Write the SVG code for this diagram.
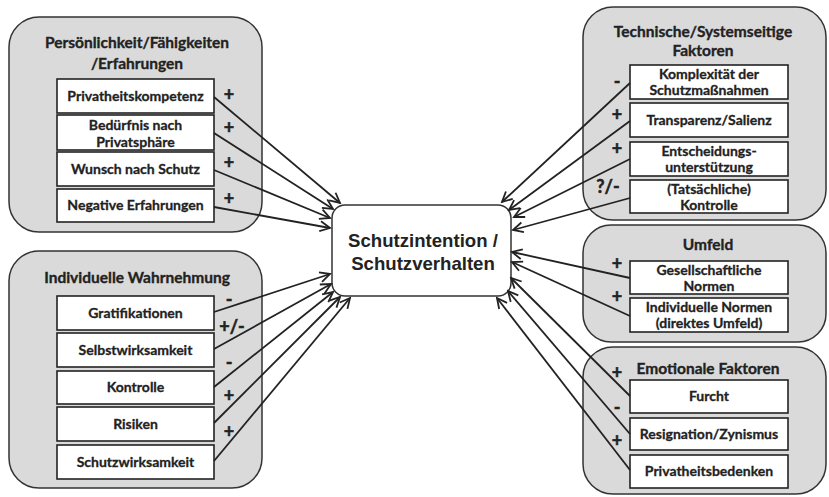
<svg xmlns="http://www.w3.org/2000/svg" width="829" height="497" viewBox="0 0 829 497">
  <defs>
    <marker id="arrow" markerUnits="userSpaceOnUse" markerWidth="14" markerHeight="14" viewBox="-12 -7 14 14" refX="0" refY="0" orient="auto">
      <path d="M-10,-5 L0,0 L-10,5" fill="none" stroke="#222" stroke-width="1.8" stroke-linejoin="miter"/>
    </marker>
  </defs>
  <style>
    .group { fill: #dadada; stroke: #333; stroke-width: 1.5; }
    .item { fill: #fff; stroke: #222; stroke-width: 1.6; }
    .title { font-family: Lato, "Open Sans", "Liberation Sans", sans-serif; font-weight: bold; font-size: 15.5px; fill: #222; stroke: #222; stroke-width: 0.35; text-anchor: middle; }
    .label { font-family: Lato, "Open Sans", "Liberation Sans", sans-serif; font-weight: bold; font-size: 14px; fill: #222; stroke: #222; stroke-width: 0.3; text-anchor: middle; }
    .sign { font-family: Lato, "Open Sans", "Liberation Sans", sans-serif; font-weight: bold; font-size: 18px; fill: #222; stroke: #222; stroke-width: 0.5; text-anchor: middle; }
    .core { fill: #fff; stroke: #333; stroke-width: 1.5; }
    .core-text { font-family: "Liberation Sans", Arial, sans-serif; font-weight: bold; font-size: 18.6px; fill: #222; text-anchor: middle; }
    .conn line { stroke: #222; stroke-width: 1.8; marker-end: url(#arrow); }
  </style>

  <!-- Left upper group -->
  <g id="persoenlichkeit">
    <rect class="group" x="9" y="17" width="253" height="215" rx="30"/>
    <text class="title" x="137" y="48">Persönlichkeit/Fähigkeiten</text>
    <text class="title" x="137" y="69">/Erfahrungen</text>
    <rect class="item" x="57" y="79" width="157" height="34"/>
    <text class="label" x="135.5" y="101">Privatheitskompetenz</text>
    <rect class="item" x="57" y="115" width="157" height="35"/>
    <text class="label" x="135.5" y="130">Bedürfnis nach</text>
    <text class="label" x="135.5" y="147">Privatsphäre</text>
    <rect class="item" x="57" y="152" width="157" height="34"/>
    <text class="label" x="135.5" y="174">Wunsch nach Schutz</text>
    <rect class="item" x="57" y="189" width="157" height="33"/>
    <text class="label" x="135.5" y="210">Negative Erfahrungen</text>
    <text class="sign" x="229" y="101">+</text>
    <text class="sign" x="229" y="134">+</text>
    <text class="sign" x="229" y="169">+</text>
    <text class="sign" x="229" y="205">+</text>
  </g>

  <!-- Left lower group -->
  <g id="wahrnehmung">
    <rect class="group" x="9" y="251" width="253" height="237" rx="30"/>
    <text class="title" x="137" y="283">Individuelle Wahrnehmung</text>
    <rect class="item" x="57" y="296" width="157" height="34"/>
    <text class="label" x="135.5" y="318">Gratifikationen</text>
    <rect class="item" x="57" y="333" width="157" height="34"/>
    <text class="label" x="135.5" y="355">Selbstwirksamkeit</text>
    <rect class="item" x="57" y="371" width="157" height="33"/>
    <text class="label" x="135.5" y="392">Kontrolle</text>
    <rect class="item" x="57" y="407" width="157" height="34"/>
    <text class="label" x="135.5" y="429">Risiken</text>
    <rect class="item" x="57" y="445" width="157" height="34"/>
    <text class="label" x="135.5" y="467">Schutzwirksamkeit</text>
    <text class="sign" x="229" y="306">-</text>
    <text class="sign" x="232" y="333">+/-</text>
    <text class="sign" x="229" y="369">-</text>
    <text class="sign" x="229" y="402">+</text>
    <text class="sign" x="229" y="438">+</text>
  </g>

  <!-- Right upper group -->
  <g id="technisch">
    <rect class="group" x="583" y="7" width="243" height="213" rx="30"/>
    <text class="title" x="703" y="37">Technische/Systemseitige</text>
    <text class="title" x="703" y="56">Faktoren</text>
    <rect class="item" x="630" y="65" width="158" height="34"/>
    <text class="label" x="709" y="79">Komplexität der</text>
    <text class="label" x="709" y="95">Schutzmaßnahmen</text>
    <rect class="item" x="630" y="103" width="158" height="34"/>
    <text class="label" x="709" y="125">Transparenz/Salienz</text>
    <rect class="item" x="630" y="142" width="158" height="34"/>
    <text class="label" x="709" y="156">Entscheidungs-</text>
    <text class="label" x="709" y="172">unterstützung</text>
    <rect class="item" x="630" y="180" width="158" height="33"/>
    <text class="label" x="709" y="194">(Tatsächliche)</text>
    <text class="label" x="709" y="210">Kontrolle</text>
    <text class="sign" x="617" y="88">-</text>
    <text class="sign" x="617" y="121">+</text>
    <text class="sign" x="617" y="155">+</text>
    <text class="sign" x="608" y="193">?/-</text>
  </g>

  <!-- Right middle group -->
  <g id="umfeld">
    <rect class="group" x="583" y="225" width="243" height="117" rx="28"/>
    <text class="title" x="708" y="250">Umfeld</text>
    <rect class="item" x="630" y="261" width="158" height="33"/>
    <text class="label" x="709" y="275">Gesellschaftliche</text>
    <text class="label" x="709" y="291">Normen</text>
    <rect class="item" x="630" y="298" width="158" height="34"/>
    <text class="label" x="709" y="312">Individuelle Normen</text>
    <text class="label" x="709" y="328">(direktes Umfeld)</text>
    <text class="sign" x="617" y="270">+</text>
    <text class="sign" x="617" y="303">+</text>
  </g>

  <!-- Right lower group -->
  <g id="emotional">
    <rect class="group" x="583" y="347" width="243" height="147" rx="30"/>
    <text class="title" x="708" y="374">Emotionale Faktoren</text>
    <rect class="item" x="630" y="380" width="158" height="33"/>
    <text class="label" x="709" y="401">Furcht</text>
    <rect class="item" x="630" y="418" width="158" height="32"/>
    <text class="label" x="709" y="439">Resignation/Zynismus</text>
    <rect class="item" x="630" y="455" width="158" height="33"/>
    <text class="label" x="709" y="476">Privatheitsbedenken</text>
    <text class="sign" x="617" y="379">+</text>
    <text class="sign" x="617" y="414">-</text>
    <text class="sign" x="617" y="447">+</text>
  </g>

  <!-- Central node -->
  <g id="schutz">
    <rect class="core" x="332" y="205" width="179" height="91" rx="13"/>
    <text class="core-text" x="423" y="247">Schutzintention /</text>
    <text class="core-text" x="423" y="270">Schutzverhalten</text>
  </g>

  <!-- Connectors -->
  <g class="conn" id="connectors">
    <line x1="214" y1="97" x2="340" y2="203"/>
    <line x1="214" y1="133" x2="333" y2="209"/>
    <line x1="214" y1="170" x2="330" y2="218"/>
    <line x1="214" y1="207" x2="330" y2="228"/>

    <line x1="214" y1="312" x2="330" y2="274"/>
    <line x1="214" y1="349" x2="331" y2="284"/>
    <line x1="214" y1="387" x2="333" y2="292"/>
    <line x1="214" y1="423" x2="340" y2="297"/>
    <line x1="214" y1="461" x2="350" y2="298"/>

    <line x1="630" y1="83" x2="502" y2="202"/>
    <line x1="630" y1="121" x2="509" y2="210"/>
    <line x1="630" y1="159" x2="514" y2="217"/>
    <line x1="630" y1="198" x2="513" y2="230"/>

    <line x1="630" y1="278" x2="512" y2="252"/>
    <line x1="630" y1="316" x2="512" y2="262"/>

    <line x1="630" y1="396" x2="511" y2="278"/>
    <line x1="630" y1="434" x2="508" y2="291"/>
    <line x1="630" y1="470" x2="497" y2="298"/>
  </g>
</svg>
